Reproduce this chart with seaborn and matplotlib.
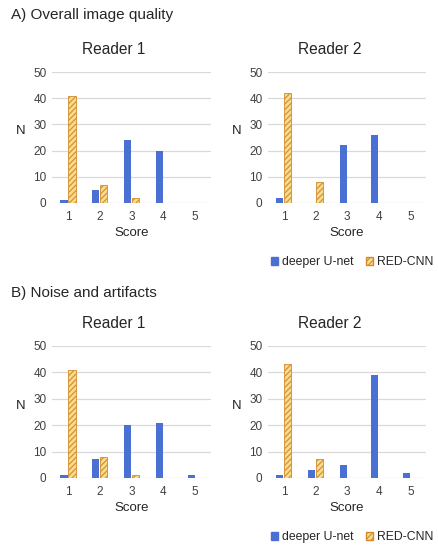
import pandas as pd
import seaborn as sns
import matplotlib.pyplot as plt
from matplotlib.patches import Patch

# Scores 1..5, number of cases per score
scores = ["1", "2", "3", "4", "5"]
methods = ["deeper U-net", "RED-CNN"]

a_r1_unet = [1, 5, 24, 20, 0]
a_r1_red = [41, 7, 2, 0, 0]
a_r2_unet = [2, 0, 22, 26, 0]
a_r2_red = [42, 8, 0, 0, 0]

b_r1_unet = [1, 7, 20, 21, 1]
b_r1_red = [41, 8, 1, 0, 0]
b_r2_unet = [1, 3, 5, 39, 2]
b_r2_red = [43, 7, 0, 0, 0]

panels = [
    ("Reader 1", a_r1_unet, a_r1_red),
    ("Reader 2", a_r2_unet, a_r2_red),
    ("Reader 1", b_r1_unet, b_r1_red),
    ("Reader 2", b_r2_unet, b_r2_red),
]
section_titles = ["A) Overall image quality", "B) Noise and artifacts"]

blue = "#4a70d4"
hatch_face = "#f6dc8c"
hatch_edge = "#d48a2c"

sns.set_style("white")
plt.rcParams["font.family"] = ["Liberation Sans", "DejaVu Sans"]
plt.rcParams["hatch.linewidth"] = 0.8

fig = plt.figure(figsize=(4.38, 5.5), dpi=100)

# axes rectangles in figure fraction
rects = [
    [0.119, 0.631, 0.363, 0.238],
    [0.612, 0.631, 0.361, 0.238],
    [0.119, 0.131, 0.363, 0.240],
    [0.612, 0.131, 0.361, 0.240],
]

for i, (title, unet, red) in enumerate(panels):
    ax = fig.add_axes(rects[i])
    df = pd.DataFrame({
        "Score": scores * 2,
        "N": unet + red,
        "Method": [methods[0]] * 5 + [methods[1]] * 5,
    })
    sns.barplot(data=df, x="Score", y="N", hue="Method", ax=ax,
                palette=[blue, hatch_face], width=0.5, gap=0.1,
                legend=False, saturation=1)
    # hatch the RED-CNN bars
    for p in ax.patches[5:]:
        p.set_hatch("//////")
        p.set_edgecolor(hatch_edge)
        p.set_linewidth(0.6)
    for p in ax.patches[:5]:
        p.set_edgecolor(blue)
        p.set_linewidth(0)
    ax.set_ylim(0, 50)
    ax.set_yticks([0, 10, 20, 30, 40, 50])
    ax.grid(axis="y", color="#d9d9d9", linewidth=0.9)
    ax.set_axisbelow(True)
    for s in ax.spines.values():
        s.set_visible(False)
    ax.tick_params(axis="x", length=0, labelsize=8.5, colors="#404040", pad=6)
    ax.tick_params(axis="y", length=0, labelsize=8.5, colors="#404040", pad=4)
    ax.set_title(title, fontsize=11.2, color="#262626", pad=13, x=0.39)
    ax.set_xlabel("Score", fontsize=9.5, color="#262626", labelpad=3)
    ax.set_ylabel("N", fontsize=9.5, color="#262626", rotation=0, labelpad=9)

    if i % 2 == 1:
        handles = [Patch(facecolor=blue, edgecolor=blue, label=methods[0]),
                   Patch(facecolor=hatch_face, edgecolor=hatch_edge, hatch="//////",
                         label=methods[1])]
        ax.legend(handles=handles, loc="upper center", bbox_to_anchor=(0.53, -0.34),
                  ncol=2, frameon=False, fontsize=8.8, handlelength=0.6,
                  handleheight=0.6, handletextpad=0.3, columnspacing=1.0,
                  labelcolor="#262626", borderpad=0.2)

fig.text(0.025, 0.972, section_titles[0], fontsize=11, color="#262626", va="center")
fig.text(0.025, 0.467, section_titles[1], fontsize=11, color="#262626", va="center")

plt.savefig("out.png", dpi=100)
plt.close()
